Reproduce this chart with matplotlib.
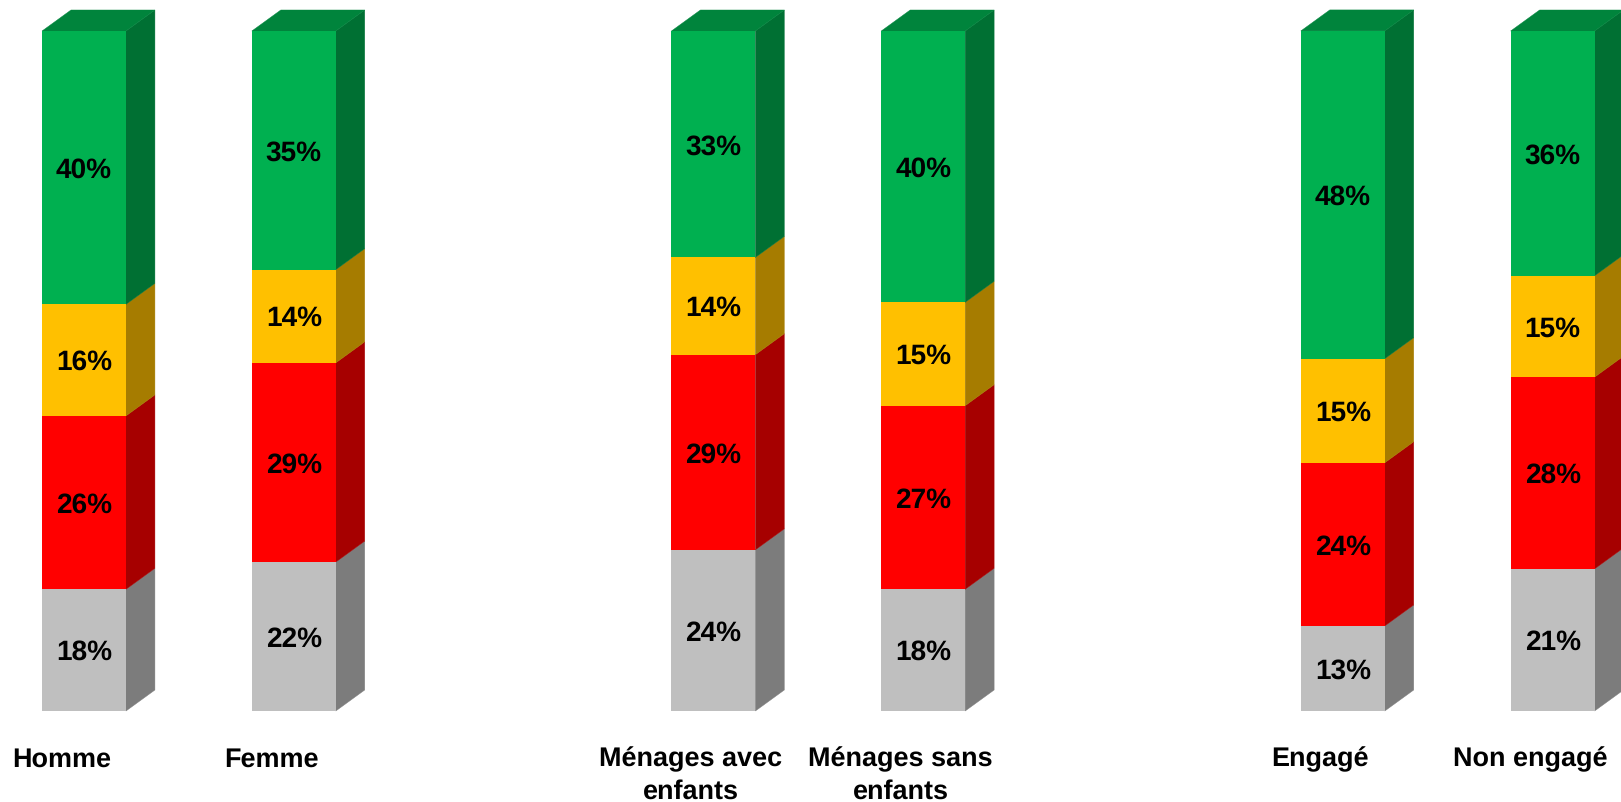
import numpy as np
import matplotlib.pyplot as plt

plt.rcParams["font.family"] = ["Liberation Sans", "DejaVu Sans"]
plt.rcParams["text.hinting"] = "no_hinting"
plt.rcParams["text.hinting_factor"] = 1

# Slots 2 and 5 stay empty, they separate the three groups
slots = [0, 1, 3, 4, 6, 7]
categories = ["Homme", "Femme", "Ménages avec\nenfants", "Ménages sans\nenfants", "Engagé", "Non engagé"]

gray_vals = [17.9, 21.9, 23.7, 17.9, 12.51, 20.9]
red_vals = [25.5, 29.3, 28.7, 27.0, 24.0, 28.2]
yellow_vals = [16.4, 13.7, 14.3, 15.2, 15.3, 14.9]
green_vals = [40.2, 35.1, 33.3, 39.9, 48.2, 36.0]

series = [gray_vals, red_vals, yellow_vals, green_vals]
front_colors = ["#BFBFBF", "#FF0000", "#FFC000", "#00B050"]
side_colors = ["#7C7C7C", "#A60000", "#A67C00", "#007033"]
top_color = "#00843C"

bar_w = 0.4
depth_x = 0.138
depth_y = 3.09

fig = plt.figure(figsize=(16.21, 8.02), dpi=100)
ax = fig.add_axes([0, 0, 1, 1])
ax.set_xlim(-0.4004, 7.326)
ax.set_ylim(-13.38, 104.56)
ax.axis("off")

bottoms = np.zeros(len(slots))
for vals, front, side in zip(series, front_colors, side_colors):
    vals = np.array(vals)
    ax.bar(slots, vals, bar_w, bottom=bottoms, color=front, linewidth=0, zorder=3)
    for x, b, v in zip(slots, bottoms, vals):
        x1 = x + bar_w / 2
        ax.fill([x1, x1 + depth_x, x1 + depth_x, x1],
                [b, b + depth_y, b + v + depth_y, b + v],
                color=side, linewidth=0.3, zorder=2)
        ax.text(x, b + v / 2 - 0.4, f"{v:.0f}%", ha="center", va="center",
                fontsize=19.8, fontweight="bold", color="black", zorder=4)
    bottoms += vals

# Top face of each column
for x, h in zip(slots, bottoms):
    x0, x1 = x - bar_w / 2, x + bar_w / 2
    ax.fill([x0, x1, x1 + depth_x, x0 + depth_x],
            [h, h, h + depth_y, h + depth_y],
            color=top_color, linewidth=0.3, zorder=2)

# One text per line so that all labels share the same baselines
for x, name in zip(slots, categories):
    for i, line in enumerate(name.split("\n")):
        ax.text(x - 0.108, -8.19 - 4.7 * i, line, ha="center", va="baseline",
                fontsize=19.6, fontweight="bold", color="black")

fig.savefig("out.png", dpi=100)
